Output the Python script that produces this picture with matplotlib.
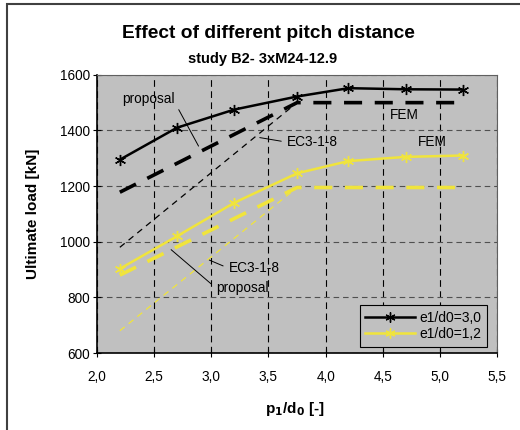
import matplotlib
matplotlib.use('Agg')
import matplotlib.pyplot as plt
from matplotlib.patches import Rectangle
from matplotlib.ticker import FuncFormatter

plt.rcParams['font.family'] = ['Liberation Sans', 'DejaVu Sans']

# measured points (p1/d0 vs ultimate load)
x_fem = [2.2, 2.7, 3.2, 3.75, 4.2, 4.7, 5.2]
fem_30 = [1295, 1410, 1475, 1522, 1552, 1548, 1547]
fem_12 = [903, 1020, 1140, 1246, 1290, 1305, 1310]

# design models
x_prop = [2.2, 3.75, 5.2]
prop_30 = [1178, 1500, 1500]
prop_12 = [880, 1195, 1195]
x_ec3 = [2.2, 3.75]
ec3_30 = [980, 1500]
ec3_12 = [680, 1195]

black = 'black'
yellow = '#f0e43c'
star = (6, 2, 0)
fs = 9.8

fig = plt.figure(figsize=(5.2, 4.3), dpi=100)
ax = fig.add_axes([0.1865, 0.179, 0.7695, 0.647])
ax.set_facecolor('#c0c0c0')

ax.plot(x_fem, fem_30, color=black, lw=1.8, marker=star, ms=8, mew=1.0,
        label='e1/d0=3,0', zorder=4)
ax.plot(x_fem, fem_12, color=yellow, lw=1.8, marker=star, ms=8, mew=1.0,
        label='e1/d0=1,2', zorder=4)
ax.plot(x_prop, prop_30, color=black, lw=2.6, dashes=(5, 3.5), zorder=3)
ax.plot(x_prop, prop_12, color=yellow, lw=2.6, dashes=(5, 3.5), zorder=3)
ax.plot(x_ec3, ec3_30, color=black, lw=0.9, dashes=(5, 4), zorder=3)
ax.plot(x_ec3, ec3_12, color=yellow, lw=0.9, dashes=(5, 4), zorder=3)

ax.set_xlim(2.0, 5.5)
ax.set_ylim(600, 1600)
ax.set_xticks([2.0, 2.5, 3.0, 3.5, 4.0, 4.5, 5.0, 5.5])
ax.set_yticks(range(600, 1601, 200))
ax.xaxis.set_major_formatter(FuncFormatter(lambda v, p: f'{v:.1f}'.replace('.', ',')))
ax.tick_params(labelsize=fs, length=6, width=0.8, direction='inout', colors='black')
ax.tick_params(axis='x', pad=9)
ax.tick_params(axis='y', pad=2)

ax.xaxis.grid(True, color='black', lw=0.8, dashes=(6, 4))
ax.yaxis.grid(True, color='#505050', lw=0.8, dashes=(5, 3.5))
for s in ['left', 'bottom']:
    ax.spines[s].set_linewidth(1.2)
for s in ['top', 'right']:
    ax.spines[s].set_color('#606060')
    ax.spines[s].set_linewidth(0.8)

ax.set_xlabel('p$_\\mathbf{1}$/d$_\\mathbf{0}$ [-]', fontsize=11, fontweight='bold')
ax.set_ylabel('Ultimate load [kN]', fontsize=11, fontweight='bold')
ax.xaxis.set_label_coords(0.495, -0.168)
ax.yaxis.set_label_coords(-0.143, 0.5)

fig.text(0.516, 0.923, 'Effect of different pitch distance', ha='center', va='center',
         fontsize=13.8, fontweight='bold')
fig.text(0.505, 0.862, 'study B2- 3xM24-12.9', ha='center', va='center',
         fontsize=10.5, fontweight='bold')

# annotations
ann = dict(fontsize=fs, color='black')
ax.annotate('proposal', xy=(2.9, 1335), xytext=(2.22, 1512), ha='left', va='center',
            arrowprops=dict(arrowstyle='-', color='black', lw=0.7, relpos=(1.0, 0.3)), **ann)
ax.annotate('EC3-1-8', xy=(3.4, 1376), xytext=(3.66, 1358), ha='left', va='center',
            arrowprops=dict(arrowstyle='-', color='black', lw=0.7, relpos=(0.0, 0.5)), **ann)
ax.annotate('EC3-1-8', xy=(2.96, 938), xytext=(3.15, 905), ha='left', va='center',
            arrowprops=dict(arrowstyle='-', color='black', lw=0.7, relpos=(0.0, 0.5)), **ann)
ax.annotate('proposal', xy=(2.63, 978), xytext=(3.04, 834), ha='left', va='center',
            arrowprops=dict(arrowstyle='-', color='black', lw=0.7, relpos=(0.0, 0.5)), **ann)
ax.text(4.69, 1456, 'FEM', ha='center', va='center', **ann)
ax.text(4.93, 1360, 'FEM', ha='center', va='center', **ann)

leg = ax.legend(loc='lower right', bbox_to_anchor=(0.975, 0.022), fontsize=10,
                frameon=True, fancybox=False, handlelength=3.6, handletextpad=0.3,
                borderpad=0.4, labelspacing=0.2, borderaxespad=0, markerscale=0.9)
leg.get_frame().set_facecolor('#c0c0c0')
leg.get_frame().set_edgecolor('black')
leg.get_frame().set_linewidth(0.8)
leg.get_frame().set_alpha(1)

# outer chart frame (only top and left edges visible in the crop)
fig.patches.append(Rectangle((7 / 520, -0.1), 1.2, 1.1 - 4 / 430, transform=fig.transFigure,
                             fill=False, edgecolor='#404040', lw=1.5))

fig.savefig('out.png', dpi=100)
